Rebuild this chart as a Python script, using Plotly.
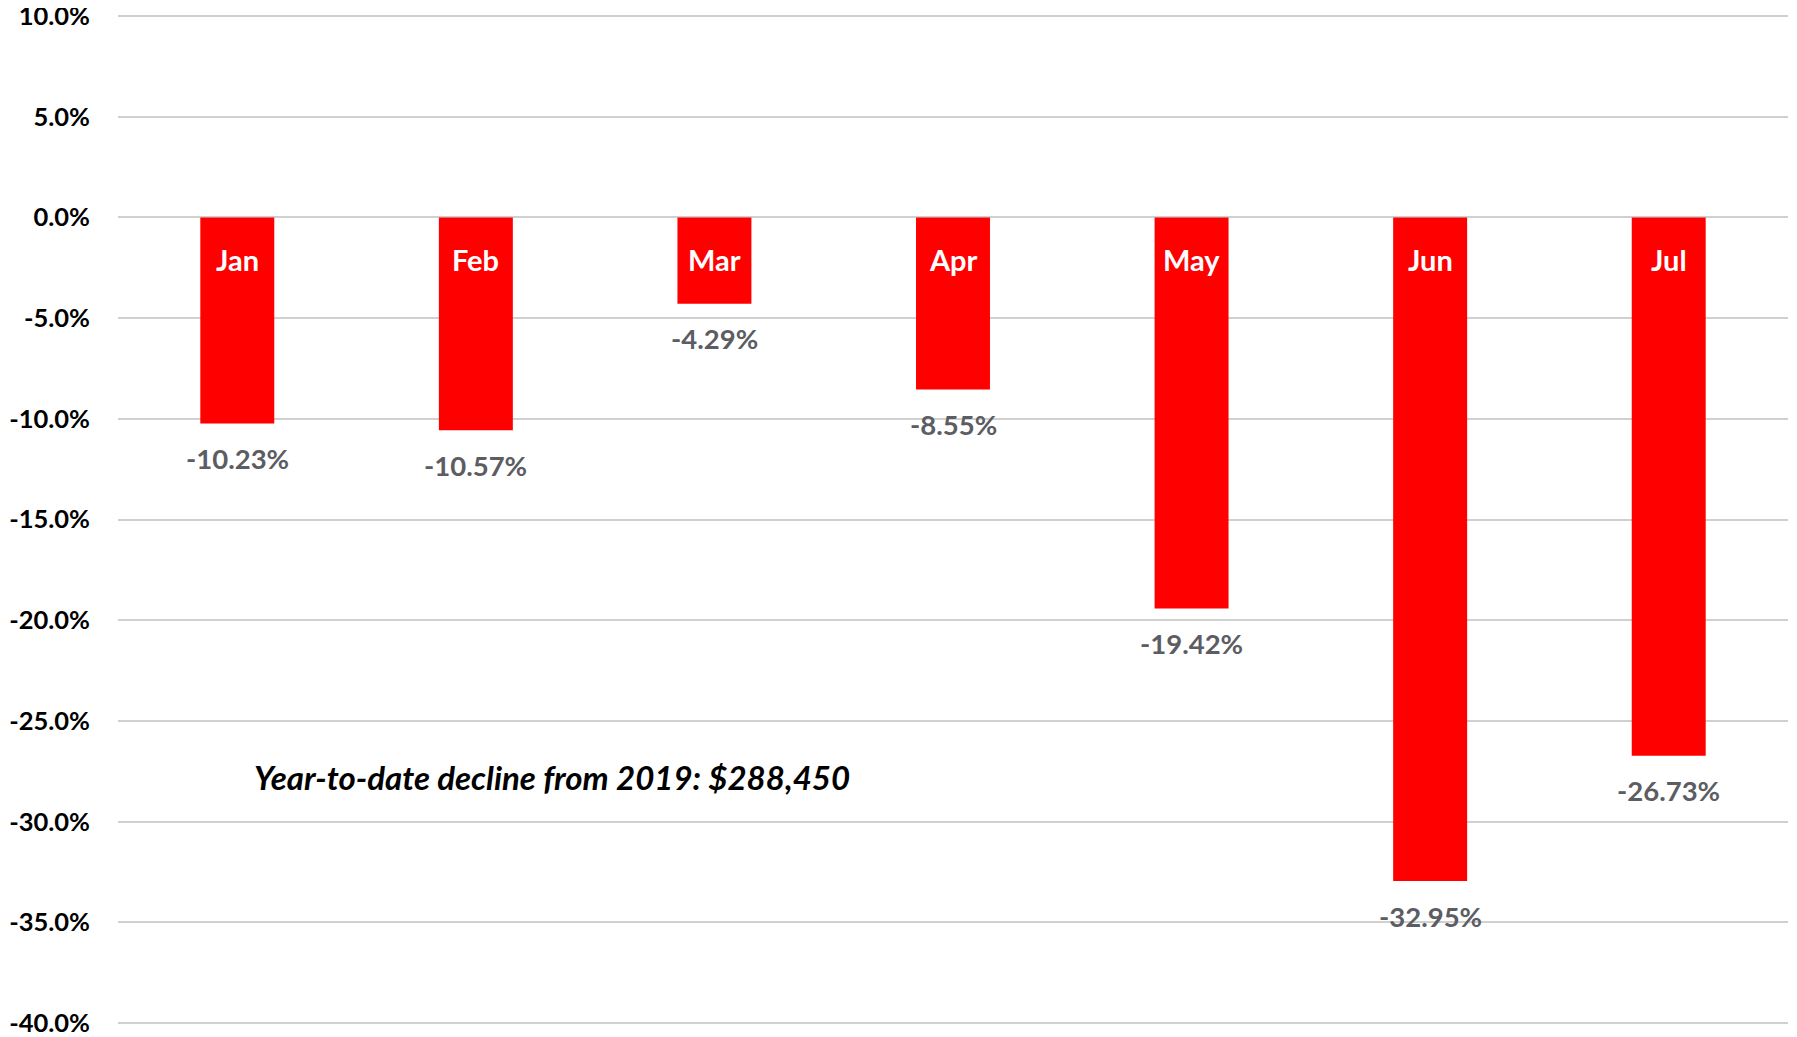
import plotly.graph_objects as go

months = ["Jan", "Feb", "Mar", "Apr", "May", "Jun", "Jul"]
values = [-10.23, -10.57, -4.29, -8.55, -19.42, -32.95, -26.73]
value_labels = ["-10.23%", "-10.57%", "-4.29%", "-8.55%", "-19.42%", "-32.95%", "-26.73%"]
tick_vals = [10, 5, 0, -5, -10, -15, -20, -25, -30, -35, -40]
tick_labels = ["10.0%", "5.0%", "0.0%", "-5.0%", "-10.0%", "-15.0%", "-20.0%",
               "-25.0%", "-30.0%", "-35.0%", "-40.0%"]
note_text = "Year-to-date decline from 2019: $288,450"

FONT = "Lato"
W, H = 1797, 1037
OFF = 8  # default page body margin
# plot area in page pixels
PX0, PX1, PY0, PY1 = 118, 1788, 14, 1025
L, R = PX0 - OFF, W + OFF - PX1
T, B = PY0 - OFF, H + OFF - PY1
pw, ph = PX1 - PX0, PY1 - PY0

fig = go.Figure()
fig.add_trace(go.Bar(
    x=months, y=values,
    marker=dict(color="#ff0000", line=dict(width=0)),
    width=0.31,
    hoverinfo="skip",
))

annotations = []
for m, v, lab in zip(months, values, value_labels):
    annotations.append(dict(
        x=m, y=0, xref="x", yref="y", text=m, showarrow=False,
        xanchor="center", yanchor="middle", yshift=-42,
        font=dict(family=FONT, size=29, color="white", weight="bold"),
    ))
    annotations.append(dict(
        x=m, y=v, xref="x", yref="y", text=lab, showarrow=False,
        xanchor="center", yanchor="middle", yshift=-35,
        font=dict(family=FONT, size=27.5, color="#5c5d62", weight="bold"),
    ))

annotations.append(dict(
    x=(552 - PX0) / pw, y=(PY1 - 777) / ph, xref="paper", yref="paper",
    text="<i>%s</i>" % note_text, xanchor="center", yanchor="middle",
    showarrow=False, font=dict(family=FONT, size=33, color="black", weight="bold"),
))

fig.update_layout(
    width=W, height=H,
    margin=dict(l=L, r=R, t=T, b=B, autoexpand=False),
    paper_bgcolor="white", plot_bgcolor="white",
    showlegend=False,
    annotations=annotations,
    xaxis=dict(showticklabels=False, showgrid=False, zeroline=False, showline=False,
               ticks="", automargin=False),
    yaxis=dict(range=[-40.1, 10.1], tickvals=tick_vals, ticktext=tick_labels,
               showgrid=True, gridcolor="#d0d0d0", gridwidth=2,
               zeroline=False, showline=False, ticks="", automargin=False,
               ticklabelstandoff=27, ticklabeloverflow="allow",
               tickfont=dict(family=FONT, size=25.5, color="black", weight="bold")),
)

fig.write_html("out.html")
